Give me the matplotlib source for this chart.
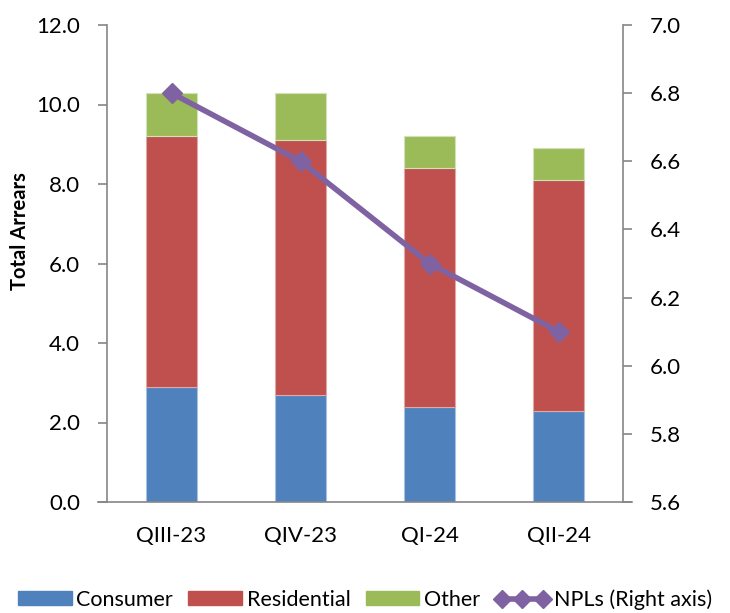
import numpy as np
import matplotlib
matplotlib.use("Agg")
import matplotlib.pyplot as plt
from matplotlib.lines import Line2D
from matplotlib.patches import Patch

plt.rcParams['font.family'] = ['Lato', 'DejaVu Sans']

quarters = ['QIII-23', 'QIV-23', 'QI-24', 'QII-24']
consumer = [2.9, 2.7, 2.4, 2.3]
residential = [6.3, 6.4, 6.0, 5.8]
other = [1.1, 1.2, 0.8, 0.8]
npls = [6.8, 6.6, 6.3, 6.1]

c_blue = '#4F81BD'
c_red = '#C0504D'
c_green = '#9BBB59'
c_purple = '#7F62A1'
c_axis = '#868686'

W, H = 730, 613
fig = plt.figure(figsize=(W / 100, H / 100), dpi=100)
# plot area in pixels: left 107, right 623, top 25, bottom 502
ax = fig.add_axes([107 / W, 1 - 502 / H, 516 / W, 477 / H])

x = np.arange(len(quarters))
w = 0.40
cons = np.array(consumer)
res = np.array(residential)
oth = np.array(other)
ax.bar(x, cons, w, color=c_blue, edgecolor='#A9C0E0', linewidth=0.8)
ax.bar(x, res, w, bottom=cons, color=c_red, edgecolor='#E0A9A8', linewidth=0.8)
ax.bar(x, oth, w, bottom=cons + res, color=c_green, edgecolor='#D2E2B8', linewidth=0.8)

ax.set_xlim(-0.5, len(quarters) - 0.5)
ax.set_ylim(0, 12)
left_ticks = np.arange(0, 12.1, 2)
ax.set_yticks(left_ticks)
ax.set_yticklabels([f'{v:.1f}' for v in left_ticks])
ax.set_xticks(x)
ax.set_xticklabels(quarters)
ax.tick_params(axis='y', labelsize=16, length=6.5, width=1.2, color=c_axis,
               direction='out', pad=13)
ax.tick_params(axis='x', labelsize=16, length=0, pad=17)
for s in ['top', 'right', 'bottom']:
    ax.spines[s].set_visible(False)
ax.spines['left'].set_color(c_axis)
ax.spines['left'].set_linewidth(1.2)

# horizontal axis line runs past both vertical axes by the tick length
fig.add_artist(Line2D([98 / W, 632 / W], [1 - 502 / H] * 2, color=c_axis, linewidth=1.2))

fig.text(20 / W, 1 - 231 / H, 'Total Arrears', rotation=90, ha='center', va='center',
         fontsize=14.5, fontweight='bold')

ax2 = ax.twinx()
ax2.plot(x, npls, color=c_purple, linewidth=4, marker='D', markersize=10)
ax2.set_ylim(5.6, 7.0)
right_ticks = np.arange(5.6, 7.01, 0.2)
ax2.set_yticks(right_ticks)
ax2.set_yticklabels([f'{v:.1f}' for v in right_ticks])
ax2.tick_params(axis='y', labelsize=16, length=6.5, width=1.2, color=c_axis,
                direction='out', pad=13)
for s in ['top', 'left', 'bottom']:
    ax2.spines[s].set_visible(False)
ax2.spines['right'].set_color(c_axis)
ax2.spines['right'].set_linewidth(1.2)

handles = [
    Patch(color=c_blue, label='Consumer'),
    Patch(color=c_red, label='Residential'),
    Patch(color=c_green, label='Other'),
    Line2D([0], [0], color=c_purple, linewidth=4, marker='D', markersize=9,
           label='NPLs (Right axis)'),
]
fig.legend(handles=handles, loc='lower center', bbox_to_anchor=(0.5, 0.0), ncol=4,
           frameon=False, fontsize=15.5, handlelength=2.5, handleheight=0.6,
           columnspacing=0.7, handletextpad=0.22, numpoints=3, borderaxespad=0.05,
           borderpad=0.1)

fig.savefig('out.png', dpi=100)
